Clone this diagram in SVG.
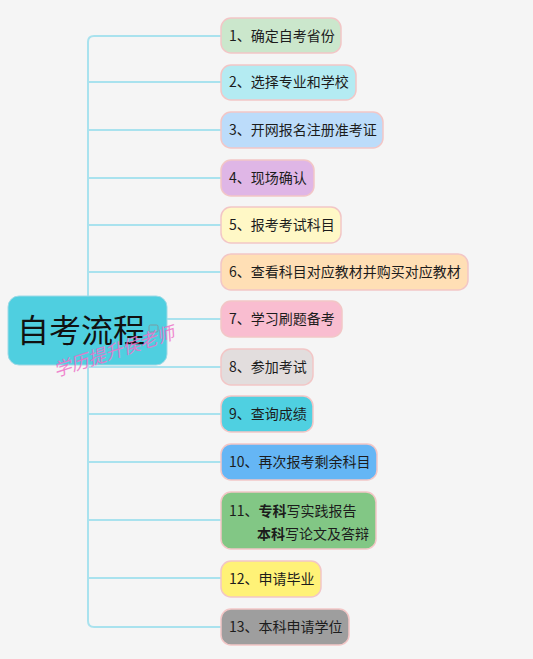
<svg xmlns="http://www.w3.org/2000/svg" width="533" height="659" viewBox="0 0 533 659">
<style>
.n{stroke:#f2c6c6;stroke-width:1.5}
.t{font-family:"Noto Sans CJK SC","Noto Sans",sans-serif;font-size:14px;fill:#1c1c1c}
.c{fill:none;stroke:#a9e2ee;stroke-width:2}
</style>
<rect width="533" height="659" fill="#f5f5f5"/>
<g id="connectors">
<path class="c" d="M221 36H94Q88 36 88 42V621Q88 627 94 627H221"/>
<path class="c" d="M88 82H221M88 130H221M88 178H221M88 225H221M88 272H221M88 319H221M88 367H221M88 414H221M88 462H221M88 520H221M88 578H221"/>
</g>
<g id="root">
<rect x="8" y="296" width="159" height="69" rx="11" fill="#4fcfe0" stroke="#9fd9e6" stroke-width="1"/>
<text x="17" y="342" style="font-family:'Noto Sans CJK SC',sans-serif;font-size:32px;fill:#111">自考流程</text>
<rect x="149" y="325" width="9" height="7" rx="1.5" fill="none" stroke="#7a9aa2" stroke-width="1"/>
</g>
<g id="n1"><rect class="n" x="221" y="18" width="120" height="35" rx="10" fill="#cbe7cc"/><text class="t" x="229" y="41">1、确定自考省份</text></g>
<g id="n2"><rect class="n" x="221" y="65" width="135" height="35" rx="10" fill="#b4ebf2"/><text class="t" x="229" y="87">2、选择专业和学校</text></g>
<g id="n3"><rect class="n" x="221" y="112" width="162" height="36" rx="10" fill="#bcdcfa"/><text class="t" x="229" y="135">3、开网报名注册准考证</text></g>
<g id="n4"><rect class="n" x="221" y="160" width="93" height="36" rx="10" fill="#dfb6e6"/><text class="t" x="229" y="183">4、现场确认</text></g>
<g id="n5"><rect class="n" x="221" y="207" width="120" height="36" rx="10" fill="#fff8c6"/><text class="t" x="229" y="230">5、报考考试科目</text></g>
<g id="n6"><rect class="n" x="221" y="254" width="247" height="36" rx="10" fill="#ffdfb5"/><text class="t" x="229" y="277">6、查看科目对应教材并购买对应教材</text></g>
<g id="n7"><rect class="n" x="221" y="301" width="121" height="36" rx="10" fill="#f9bdd0"/><text class="t" x="229" y="324">7、学习刷题备考</text></g>
<g id="n8"><rect class="n" x="221" y="349" width="92" height="36" rx="10" fill="#e2dddd"/><text class="t" x="229" y="372">8、参加考试</text></g>
<g id="n9"><rect class="n" x="221" y="396" width="92" height="36" rx="10" fill="#4fd0e1"/><text class="t" x="229" y="419">9、查询成绩</text></g>
<g id="n10"><rect class="n" x="221" y="444" width="156" height="36" rx="10" fill="#65b6f5"/><text class="t" x="229" y="467">10、再次报考剩余科目</text></g>
<g id="n11"><rect class="n" x="221" y="492" width="155" height="57" rx="10" fill="#82c785"/><text class="t" x="229" y="516">11、<tspan font-weight="bold">专科</tspan>写实践报告</text><text class="t" x="257" y="539"><tspan font-weight="bold">本科</tspan>写论文及答辩</text></g>
<g id="n12"><rect class="n" x="221" y="561" width="100" height="36" rx="10" fill="#fff277"/><text class="t" x="229" y="584">12、申请毕业</text></g>
<g id="n13"><rect class="n" x="221" y="609" width="128" height="36" rx="10" fill="#9e9e9e"/><text class="t" x="229" y="632">13、本科申请学位</text></g>
<text x="56" y="377" transform="rotate(-18 56 377)" style="font-family:'Noto Sans CJK SC',sans-serif;font-size:18px;font-style:italic;fill:#ee72c8;opacity:0.85">学历提升侯老师</text>
</svg>
